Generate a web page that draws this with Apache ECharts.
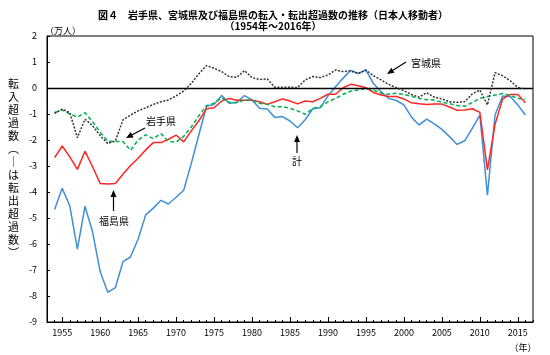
<!DOCTYPE html>
<html><head><meta charset="utf-8">
<script src="https://cdn.jsdelivr.net/npm/echarts@6/dist/echarts.min.js"></script>
<style>html,body{margin:0;padding:0;background:#fff}#c{width:550px;height:355px}</style>
</head><body><div id="c"></div>
<script>
const years = [];
for (let y = 1954; y <= 2016; y++) years.push(y);

const miyagi = [-0.97,-0.81,-0.95,-1.91,-1.2,-1.45,-1.83,-2.13,-2.04,-1.23,
 -1.04,-0.88,-0.76,-0.63,-0.53,-0.46,-0.3,-0.12,0.18,0.55,
 0.86,0.76,0.63,0.44,0.41,0.67,0.40,0.33,0.35,0.03,
 0.03,0.03,0.02,0.31,0.44,0.40,0.50,0.69,0.63,0.65,
 0.56,0.69,0.47,0.31,0.14,0.01,-0.1,-0.25,-0.35,-0.18,
 -0.35,-0.42,-0.53,-0.55,-0.53,-0.23,-0.08,-0.65,0.59,0.47,
 0.28,0.02,-0.04];
const iwate = [-0.95,-0.84,-1.0,-1.12,-0.95,-1.3,-1.7,-2.04,-2.06,-2.06,
 -2.4,-2.0,-1.8,-1.95,-1.75,-2.05,-2.08,-1.86,-1.5,-1.07,
 -0.68,-0.59,-0.37,-0.56,-0.56,-0.46,-0.47,-0.59,-0.63,-0.72,
 -0.72,-0.78,-0.88,-1.01,-0.78,-0.72,-0.53,-0.4,-0.24,-0.12,
 -0.08,-0.01,-0.08,-0.2,-0.24,-0.2,-0.25,-0.32,-0.4,-0.45,
 -0.46,-0.55,-0.6,-0.67,-0.7,-0.56,-0.4,-0.33,-0.27,-0.21,
 -0.29,-0.4,-0.42];
const fukushima = [-2.68,-2.23,-2.65,-3.13,-2.43,-3.03,-3.67,-3.69,-3.67,-3.32,
 -2.98,-2.7,-2.38,-2.1,-2.1,-1.97,-1.81,-2.07,-1.65,-1.26,
 -0.8,-0.76,-0.5,-0.4,-0.47,-0.47,-0.47,-0.53,-0.63,-0.53,
 -0.42,-0.5,-0.61,-0.5,-0.53,-0.4,-0.24,-0.24,0.01,0.14,
 0.09,0.01,-0.17,-0.27,-0.33,-0.33,-0.42,-0.57,-0.61,-0.63,
 -0.62,-0.62,-0.73,-0.86,-0.85,-0.8,-0.94,-3.15,-1.4,-0.42,
 -0.25,-0.25,-0.57];
const total = [-4.67,-3.86,-4.53,-6.2,-4.55,-5.53,-7.06,-7.86,-7.68,-6.68,
 -6.5,-5.81,-4.88,-4.62,-4.32,-4.46,-4.2,-3.93,-2.9,-1.8,
 -0.7,-0.63,-0.29,-0.59,-0.56,-0.29,-0.46,-0.78,-0.81,-1.13,
 -1.1,-1.27,-1.53,-1.22,-0.8,-0.76,-0.3,0.05,0.38,0.68,
 0.56,0.69,0.17,-0.15,-0.4,-0.48,-0.65,-1.12,-1.42,-1.2,
 -1.38,-1.59,-1.87,-2.17,-2.03,-1.55,-1.04,-4.12,-1.04,-0.31,
 -0.33,-0.65,-1.04];
const majorYears = [1955,1960,1965,1970,1975,1980,1985,1990,1995,2000,2005,2010,2015];

const titleLine1 = '図４　岩手県、宮城県及び福島県の転入・転出超過数の推移（日本人移動者）';
const titleLine2 = '（1954年～2016年）';
const yName = '転入超過数︵｜は転出超過数︶';

const FONT = '"Noto Sans CJK JP", "Noto Sans", sans-serif';
const pair = arr => years.map((y, i) => [y, arr[i]]);

function arrow(x1, y1, x2, y2) {
  const ang = Math.atan2(y2 - y1, x2 - x1);
  const L = 7, W = 3;
  const bx = x2 - L * Math.cos(ang), by = y2 - L * Math.sin(ang);
  const px = -Math.sin(ang) * W, py = Math.cos(ang) * W;
  return [
    { type: 'line', shape: { x1, y1, x2: bx, y2: by }, style: { stroke: '#000', lineWidth: 1.2 }, z: 100 },
    { type: 'polygon', shape: { points: [[x2, y2], [bx + px, by + py], [bx - px, by - py]] }, style: { fill: '#000' }, z: 100 }
  ];
}
function txt(x, y, t, size, extra) {
  return Object.assign({ type: 'text', x, y, z: 100,
    style: Object.assign({ text: t, font: (extra && extra.bold ? 'bold ' : '') + size + 'px ' + FONT,
      fill: '#000', textAlign: 'center', textVerticalAlign: 'middle' }, extra && extra.style) });
}

const chart = echarts.init(document.getElementById('c'));
const lineBase = { type: 'line', symbol: 'none', smooth: false, animation: false, xAxisIndex: 0, yAxisIndex: 0 };

chart.setOption({
  animation: false,
  grid: { left: 47, top: 36, right: 17, bottom: 33, show: true, borderColor: '#000', borderWidth: 1, backgroundColor: 'transparent' },
  xAxis: [
    { type: 'value', min: 1953, max: 2017, interval: 1, position: 'bottom',
      axisLine: { show: true, onZero: false, lineStyle: { color: '#000', width: 1 } },
      axisTick: { show: true, inside: true, length: 2, lineStyle: { color: '#000' } },
      axisLabel: { color: '#000', fontSize: 9, fontFamily: FONT, margin: 6,
        formatter: v => (v % 5 === 0 ? String(v) : '') },
      splitLine: { show: false } },
    { type: 'value', min: 1953, max: 2017, position: 'bottom',
      axisLine: { show: false, onZero: false },
      axisTick: { show: true, inside: true, length: 5, customValues: majorYears, lineStyle: { color: '#000' } },
      axisLabel: { show: false },
      splitLine: { show: false } }
  ],
  yAxis: { type: 'value', min: -9, max: 2, interval: 1,
    axisLine: { show: true, lineStyle: { color: '#000' } },
    axisTick: { show: true, inside: true, length: 3, lineStyle: { color: '#000' } },
    axisLabel: { color: '#000', fontSize: 9, fontFamily: FONT, margin: 10 },
    splitLine: { show: false } },
  series: [
    Object.assign({}, lineBase, { name: '計', data: pair(total), lineStyle: { color: '#3F8FD6', width: 1.5 }, z: 2,
      markLine: { silent: true, symbol: 'none', label: { show: false }, animation: false,
        lineStyle: { color: '#000', width: 1.3, type: 'solid' }, data: [{ yAxis: 0 }] } }),
    Object.assign({}, lineBase, { name: '福島県', data: pair(fukushima), lineStyle: { color: '#FF2626', width: 1.5 }, z: 3 }),
    Object.assign({}, lineBase, { name: '岩手県', data: pair(iwate), lineStyle: { color: '#00B050', width: 1.5, type: [4, 2.5] }, z: 4 }),
    Object.assign({}, lineBase, { name: '宮城県', data: pair(miyagi), lineStyle: { color: '#333333', width: 1.5, type: [2, 1.5] }, z: 5 })
  ],
  graphic: [
    txt(273, 15, titleLine1, 10, { bold: true }),
    txt(273, 26, titleLine2, 10, { bold: true }),
    txt(63, 31, '（万人）', 9),
    { type: 'text', x: 13.5, y: 77, z: 100,
      style: { text: yName.split('').join('\n'), font: '11px ' + FONT, fill: '#000', textAlign: 'center', lineHeight: 13 } },
    txt(523, 348, '（年）', 9),
    txt(426, 63, '宮城県', 10),
    ...arrow(406, 62, 387, 74),
    txt(161, 121, '岩手県', 10),
    ...arrow(145, 128, 126, 138),
    txt(297, 161, '計', 10),
    ...arrow(297, 153, 297, 135),
    txt(114, 221, '福島県', 10),
    ...arrow(113.5, 211, 113.5, 190)
  ]
});
</script></body></html>
